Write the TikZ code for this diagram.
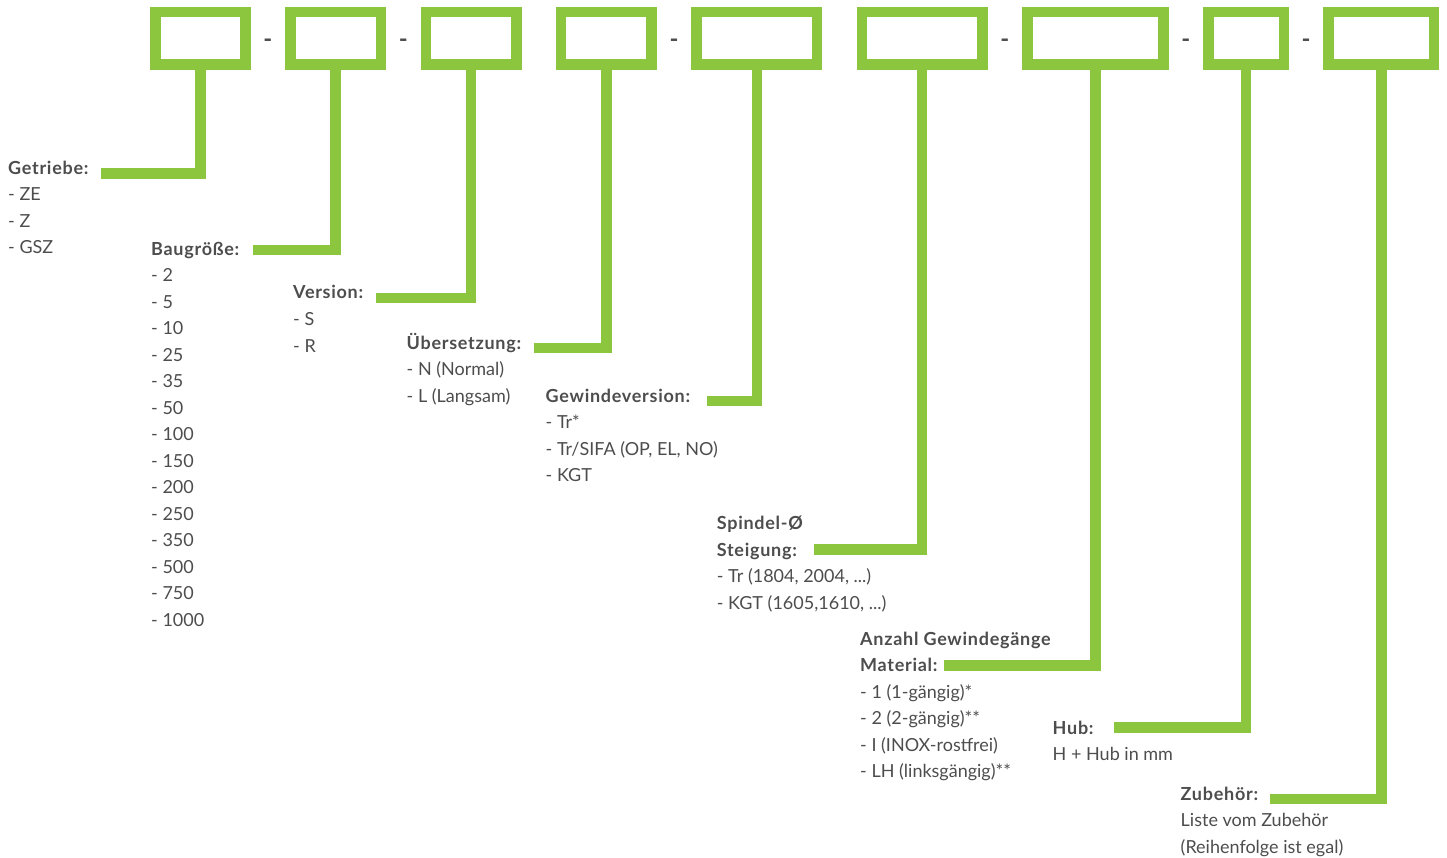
\documentclass[tikz,border=0pt]{standalone}
\usepackage{fontspec}
\setmainfont{Lato}
\newfontfamily\kopf[LetterSpace=4.0]{Lato}
\newcommand{\kopfzeile}[1]{{\kopf\bfseries #1}}
\usetikzlibrary{positioning,calc}
\definecolor{hgruen}{RGB}{140,198,63}
\definecolor{textgrau}{RGB}{77,77,77}
\tikzset{
  kasten/.style={rectangle,draw=hgruen,line width=10.5pt,minimum height=52.5pt,inner sep=0pt},
  stiel/.style={draw=hgruen,line width=10.5pt,line join=miter},
  beschr/.style={anchor=base west,align=left,inner sep=0pt,text=textgrau,
    font=\fontsize{18}{26.5}\selectfont},
  strich/.style={text=textgrau,inner sep=0pt,font=\fontsize{24}{24}\selectfont\bfseries},
}
\begin{document}
\begin{tikzpicture}[x=1pt,y=-1pt,node distance=34.4pt]
  \useasboundingbox (0,0) rectangle (1447,858);
  % Kaesten oben
  \node[kasten,minimum width=90.2pt] (getr) at (200.35,38.5) {};
  \node[kasten,minimum width=90.5pt,right=of getr] (baug) {};
  \node[kasten,minimum width=90.5pt,right=of baug] (vers) {};
  \node[kasten,minimum width=90.5pt,right=of vers] (ueber) {};
  \node[kasten,minimum width=120.5pt,right=of ueber] (gew) {};
  \node[kasten,minimum width=120.5pt,right=of gew] (spin) {};
  \node[kasten,minimum width=136pt,right=of spin] (anz) {};
  \node[kasten,minimum width=75.5pt,right=of anz] (hub) {};
  \node[kasten,minimum width=105.5pt,right=of hub] (zub) {};
  % Bindestriche
  \node[strich,yshift=-5pt] (s1) at ($(getr.east)!.5!(baug.west)$) {-};
  \node[strich,yshift=-5pt] (s2) at ($(baug.east)!.5!(vers.west)$) {-};
  \node[strich,yshift=-5pt] (s3) at ($(ueber.east)!.5!(gew.west)$) {-};
  \node[strich,yshift=-5pt] (s4) at ($(spin.east)!.5!(anz.west)$) {-};
  \node[strich,yshift=-5pt] (s5) at ($(anz.east)!.5!(hub.west)$) {-};
  \node[strich,yshift=-5pt] (s6) at ($(hub.east)!.5!(zub.west)$) {-};
  % Beschriftungen (Position = Grundlinie der letzten Zeile)
  \node[beschr] (t-getr) at (8,254) {\kopfzeile{Getriebe:}\\- ZE\\- Z\\- GSZ};
  \node[beschr] (t-baug) at (151,626) {\kopfzeile{Baugröße:}\\- 2\\- 5\\- 10\\- 25\\- 35\\- 50\\- 100\\- 150\\- 200\\- 250\\- 350\\- 500\\- 750\\- 1000};
  \node[beschr] (t-vers) at (293,352) {\kopfzeile{Version:}\\- S\\- R};
  \node[beschr] (t-ueber) at (406.5,402) {\kopfzeile{Übersetzung:}\\- N (Normal)\\- L (Langsam)};
  \node[beschr] (t-gew) at (545.5,481.5) {\kopfzeile{Gewindeversion:}\\- Tr*\\- Tr/SIFA (OP, EL, NO)\\- KGT};
  \node[beschr] (t-spin) at (716.7,609.3) {\kopfzeile{Spindel-Ø}\\\kopfzeile{Steigung:}\\- Tr (1804, 2004, ...)\\- KGT (1605,1610, ...)};
  \node[beschr] (t-anz) at (860,777.8) {\kopfzeile{Anzahl Gewindegänge}\\\kopfzeile{Material:}\\- 1 (1-gängig)*\\- 2 (2-gängig)**\\- I (INOX-rostfrei)\\- LH (linksgängig)**};
  \node[beschr] (t-hub) at (1052.5,760.8) {\kopfzeile{Hub:}\\H + Hub in mm};
  \node[beschr] (t-zub) at (1180.5,853) {\kopfzeile{Zubehör:}\\Liste vom Zubehör\\(Reihenfolge ist egal)};
  % Enden der Verbindungen
  \coordinate (e-getr) at (101,173.5);
  \coordinate (e-baug) at (252.7,250);
  \coordinate (e-vers) at (375.7,298);
  \coordinate (e-ueber) at (534,348);
  \coordinate (e-gew) at (706.7,401);
  \coordinate (e-spin) at (814.3,549.3);
  \coordinate (e-anz) at (944.3,665.3);
  \coordinate (e-hub) at (1114,727.3);
  \coordinate (e-zub) at (1270,799);
  \foreach \k in {getr,baug,vers,ueber,gew,spin,anz,hub,zub}
    \draw[stiel] (\k.south) |- (e-\k);
\end{tikzpicture}
\end{document}
